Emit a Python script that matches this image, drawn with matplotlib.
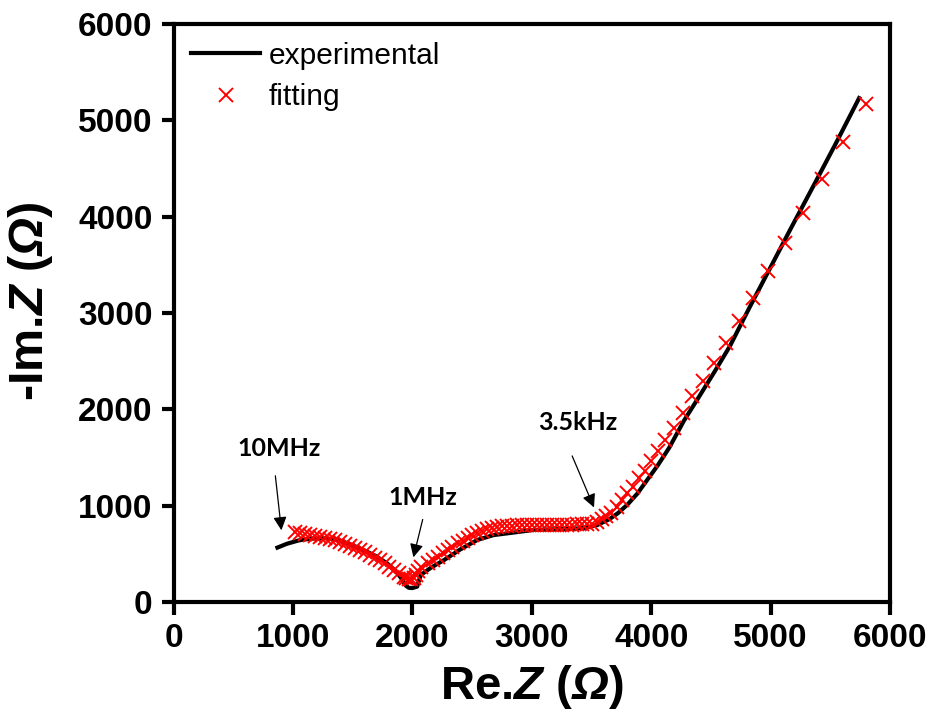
import matplotlib
matplotlib.use('Agg')
import matplotlib.pyplot as plt

plt.rcParams['font.family'] = ['Liberation Sans', 'DejaVu Sans']
plt.rcParams['mathtext.fontset'] = 'custom'
plt.rcParams['mathtext.it'] = 'Liberation Sans:bold:italic'
plt.rcParams['mathtext.rm'] = 'Liberation Sans:bold:italic'

# experimental curve (Re.Z, -Im.Z) in ohm
exp_re = [870, 950, 1050, 1150, 1270, 1380, 1490, 1590, 1690, 1790, 1870, 1910,
          1945, 1970, 2000, 2040, 2070, 2160, 2267, 2400, 2545, 2680, 2821, 3020,
          3200, 3350, 3445, 3550, 3650, 3724, 3800, 3880, 3947, 4050, 4150, 4273,
          4400, 4530, 4657, 4820, 4990, 5170, 5357, 5550, 5741]
exp_im = [565, 605, 640, 658, 662, 645, 595, 540, 480, 400, 310, 240,
          170, 148, 145, 160, 281, 360, 437, 545, 645, 695, 717, 749,
          755, 760, 770, 800, 860, 925, 1010, 1120, 1234, 1410, 1600, 1880,
          2130, 2390, 2652, 3050, 3453, 3880, 4316, 4770, 5231]

# fitted points
fit_re = [1015, 1057, 1099, 1141, 1182, 1224, 1266, 1307, 1349, 1391, 1433, 1474,
          1516, 1558, 1600, 1641, 1683, 1725, 1767, 1808, 1850, 1892, 1933, 1950,
          1970, 1990, 2010, 2030, 2050, 2072, 2128, 2170, 2211, 2253, 2295, 2336,
          2378, 2420, 2462, 2503, 2545, 2587, 2629, 2670, 2712, 2754, 2796, 2837,
          2879, 2921, 2963, 3004, 3046, 3088, 3130, 3172, 3214, 3256, 3298, 3340,
          3382, 3424, 3466, 3508, 3550, 3585, 3620, 3660, 3714, 3755, 3797, 3847,
          3894, 3950, 4000, 4061, 4117, 4192, 4264, 4345, 4431, 4526, 4626, 4737,
          4854, 4979, 5121, 5271, 5427, 5605, 5800]
fit_im = [731, 714, 704, 697, 690, 680, 669, 655, 642, 624, 607, 586,
          565, 541, 517, 489, 461, 434, 402, 367, 333, 298, 263, 250,
          240, 235, 250, 280, 320, 367, 402, 437, 471, 506, 541, 575,
          610, 638, 662, 697, 721, 742, 756, 766, 777, 784, 790, 793,
          795, 797, 798, 799, 800, 800, 800, 800, 800, 800, 801, 803,
          806, 810, 805, 815, 835, 860, 888, 920, 985, 1061, 1130, 1199,
          1286, 1355, 1459, 1563, 1685, 1806, 1962, 2135, 2291, 2482, 2690, 2915,
          3158, 3435, 3730, 4042, 4389, 4771, 5169]

fig = plt.figure(figsize=(9.37, 7.19), dpi=100)
ax = fig.add_axes([0.1852, 0.1627, 0.7647, 0.8039])

ax.plot(exp_re, exp_im, color='black', lw=3, label='experimental', zorder=2)
ax.plot(fit_re, fit_im, ls='none', marker='x', color='red', ms=10.5, mew=1.4,
        label='fitting', zorder=3)

ax.set_xlim(0, 6000)
ax.set_ylim(0, 6000)
ax.set_xticks([0, 1000, 2000, 3000, 4000, 5000, 6000])
ax.set_yticks([0, 1000, 2000, 3000, 4000, 5000, 6000])
for s in ax.spines.values():
    s.set_linewidth(3)
ax.tick_params(direction='out', length=9, width=3, labelsize=24, pad=6)
for lab in ax.get_xticklabels() + ax.get_yticklabels():
    lab.set_fontweight('bold')

ax.set_xlabel('Re.$Z$ ($\u03a9$)', fontsize=34, fontweight='bold')
ax.set_ylabel('-Im.$Z$ ($\u03a9$)', fontsize=35, fontweight='bold')
ax.xaxis.set_label_coords(0.5, -0.105)
ax.yaxis.set_label_coords(-0.166, 0.52)

ax.legend(loc='upper left', frameon=False, fontsize=21.5, handlelength=2.3,
          handletextpad=0.3, borderaxespad=0.3, borderpad=0.3, labelspacing=0.45)

akw = dict(arrowstyle='-|>', color='black', lw=0.9, mutation_scale=20)
ax.annotate('', xy=(906, 716), xytext=(850, 1339), arrowprops=akw)
ax.annotate('', xy=(2003, 436), xytext=(2092, 885), arrowprops=akw)
ax.annotate('', xy=(3530, 955), xytext=(3329, 1543), arrowprops=akw)
tkw = dict(fontsize=18, fontweight='bold', family=['Lato', 'DejaVu Sans'],
           ha='center', va='center')
ax.text(880, 1593, '10MHz', **tkw)
ax.text(2089, 1080, '1MHz', **tkw)
ax.text(3383, 1863, '3.5kHz', **tkw)

fig.savefig('out.png', dpi=100)
